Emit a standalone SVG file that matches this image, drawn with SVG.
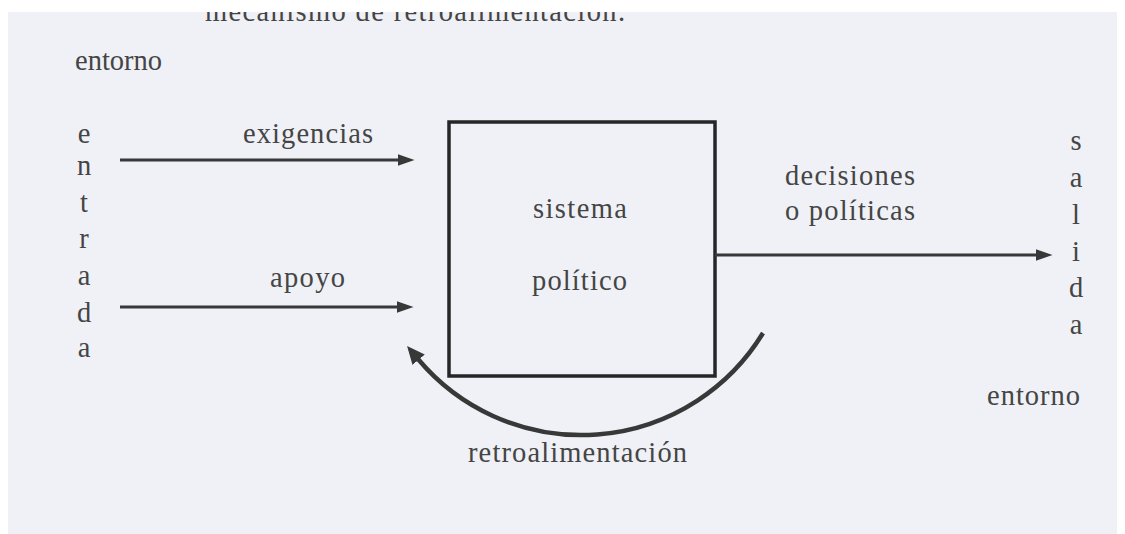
<svg xmlns="http://www.w3.org/2000/svg" width="1125" height="534" viewBox="0 0 1125 534">
  <defs>
    <style>
      .t { font-family: "Liberation Serif", "Times New Roman", serif; font-size: 28.5px; fill: #454545; }
      .m { text-anchor: middle; }
      .ln { stroke: #383838; stroke-width: 3; fill: none; }
      .arc { stroke: #383838; stroke-width: 4.5; fill: none; }
    </style>
    <marker id="ah" markerUnits="userSpaceOnUse" markerWidth="18" markerHeight="14" refX="0.5" refY="6" orient="auto">
      <path d="M0,0 L17,6 L0,12 z" fill="#383838"/>
    </marker>
    <marker id="ah2" markerUnits="userSpaceOnUse" markerWidth="20" markerHeight="18" refX="1" refY="8" orient="auto">
      <path d="M0,0 L18,8 L0,16 z" fill="#383838"/>
    </marker>
  </defs>

  <rect x="0" y="0" width="1125" height="534" fill="#ffffff"/>
  <rect x="8" y="12" width="1109" height="522" fill="#eff1f6"/>

  <text class="t" x="205" y="21" textLength="420" lengthAdjust="spacing">mecanismo de retroalimentación.</text>
  <rect x="0" y="0" width="1125" height="12" fill="#ffffff"/>

  <g id="entorno-izq">
    <text class="t" x="75" y="70" textLength="87" lengthAdjust="spacing">entorno</text>
  </g>

  <g id="entrada">
    <text class="t m" x="84" y="143">e</text>
    <text class="t m" x="84" y="175">n</text>
    <text class="t m" x="84" y="212">t</text>
    <text class="t m" x="84" y="248">r</text>
    <text class="t m" x="84" y="285">a</text>
    <text class="t m" x="84" y="322">d</text>
    <text class="t m" x="84" y="357">a</text>
  </g>

  <g id="sistema-politico">
    <rect x="449" y="122" width="266" height="254" fill="none" stroke="#262626" stroke-width="3.5"/>
    <text class="t" x="533" y="218" textLength="94" lengthAdjust="spacing">sistema</text>
    <text class="t" x="532" y="290" textLength="95" lengthAdjust="spacing">político</text>
  </g>

  <g id="salida">
    <text class="t m" x="1076" y="150">s</text>
    <text class="t m" x="1076" y="187">a</text>
    <text class="t m" x="1076" y="224">l</text>
    <text class="t m" x="1076" y="261">i</text>
    <text class="t m" x="1076" y="297">d</text>
    <text class="t m" x="1076" y="334">a</text>
  </g>

  <g id="entorno-der">
    <text class="t" x="987" y="405" textLength="93" lengthAdjust="spacing">entorno</text>
  </g>

  <g id="connectors">
    <line class="ln" x1="120" y1="160" x2="398" y2="160" marker-end="url(#ah)"/>
    <line class="ln" x1="120" y1="307" x2="397" y2="307" marker-end="url(#ah)"/>
    <line class="ln" x1="715" y1="255" x2="1036" y2="255" marker-end="url(#ah)"/>
    <path class="arc" d="M763,333 A213,213 0 0 1 418,359" marker-end="url(#ah2)"/>
  </g>

  <g id="labels">
    <text class="t" x="243" y="143" textLength="130" lengthAdjust="spacing">exigencias</text>
    <text class="t" x="270" y="287" textLength="75" lengthAdjust="spacing">apoyo</text>
    <text class="t" x="785" y="185" textLength="130" lengthAdjust="spacing">decisiones</text>
    <text class="t" x="785" y="220" textLength="130" lengthAdjust="spacing">o políticas</text>
    <text class="t" x="468" y="462" textLength="219" lengthAdjust="spacing">retroalimentación</text>
  </g>
</svg>
